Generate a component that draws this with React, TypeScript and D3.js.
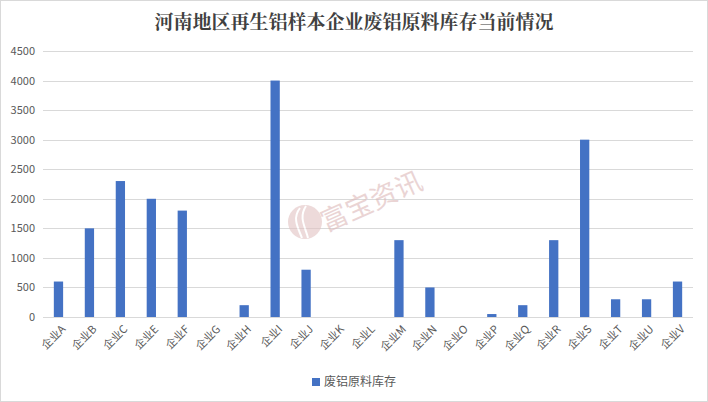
import React from 'react'
import * as d3 from 'd3'

const companies = ['企业A', '企业B', '企业C', '企业E', '企业F', '企业G', '企业H', '企业I', '企业J', '企业K', '企业L', '企业M', '企业N', '企业O', '企业P', '企业Q', '企业R', '企业S', '企业T', '企业U', '企业V']
const inventory = [600, 1500, 2300, 2000, 1800, 0, 200, 4000, 800, 0, 0, 1300, 500, 0, 50, 200, 1300, 3000, 300, 300, 600]
const yTicks = [0, 500, 1000, 1500, 2000, 2500, 3000, 3500, 4000, 4500]
const seriesName = '废铝原料库存'
const title = '河南地区再生铝样本企业废铝原料库存当前情况'

const W = 708
const H = 402
const FONT = '"Noto Sans CJK SC", "Noto Sans", sans-serif'

const margin = { top: 51, right: 15, bottom: 85, left: 43 }
const width = W - margin.left - margin.right
const height = H - margin.top - margin.bottom

const App: React.FC = () => {
  const x = d3.scaleBand()
    .domain(companies)
    .range([0, width])
    .paddingInner(0.7)
    .paddingOuter(0.35)

  const y = d3.scaleLinear()
    .domain([0, 4500])
    .range([height, 0])

  return (
    <div style={{ position: 'fixed', left: 0, top: 0, width: W, height: H, background: '#fff' }}>
      <svg width={W} height={H} style={{ display: 'block' }}>
        <rect x={0.5} y={0.5} width={W - 1} height={H - 1} fill="#fff" stroke="#D9D9D9" />
        <text
          x={W / 2}
          y={29}
          textAnchor="middle"
          style={{ fontFamily: '"Noto Serif CJK SC", "Noto Sans CJK SC", serif', fontSize: 19, fontWeight: 'bold', fill: '#404040' }}
        >
          {title}
        </text>

        <g transform={`translate(${margin.left},${margin.top})`}>
          {yTicks.map(t => (
            <line key={'g' + t} x1={0} x2={width} y1={Math.round(y(t)) + 0.5} y2={Math.round(y(t)) + 0.5} stroke="#D9D9D9" />
          ))}
          {yTicks.map(t => (
            <text key={'y' + t} x={-8} y={y(t) + 4} textAnchor="end"
              style={{ fontFamily: FONT, fontSize: 11, fill: '#595959' }}>
              {t}
            </text>
          ))}
        </g>

        {/* watermark */}
        <g opacity={0.6}>
          <circle cx={305} cy={222} r={17} fill="#E2C2C2" />
          <path d="M300,208 C292,218 298,228 302,238 M306,206 C298,218 306,228 308,238" stroke="#fff" strokeWidth={2} fill="none" />
          <text transform="translate(326,232) rotate(-24)"
            style={{ fontFamily: FONT, fontSize: 27, fill: '#DDB9B9' }}>
            富宝资讯
          </text>
        </g>

        <g transform={`translate(${margin.left},${margin.top})`}>
          {inventory.map((v, i) => (
            <rect key={companies[i]} x={x(companies[i])} y={y(v)} width={x.bandwidth()} height={height - y(v)} fill="#4472C4" />
          ))}
          {companies.map(c => (
            <g key={'x' + c} transform={`translate(${(x(c) as number) + x.bandwidth() / 2 + 5},${height + 10})`}>
              <text transform="rotate(-45)" x={0} y={4} textAnchor="end"
                style={{ fontFamily: FONT, fontSize: 11, fill: '#595959' }}>
                {c}
              </text>
            </g>
          ))}
        </g>

        <g transform={`translate(${W / 2 - 42},382)`}>
          <rect x={0} y={-4} width={8} height={8} fill="#4472C4" />
          <text x={12} y={4} style={{ fontFamily: FONT, fontSize: 12, fill: '#595959' }}>
            {seriesName}
          </text>
        </g>
      </svg>
    </div>
  )
}

export default App
